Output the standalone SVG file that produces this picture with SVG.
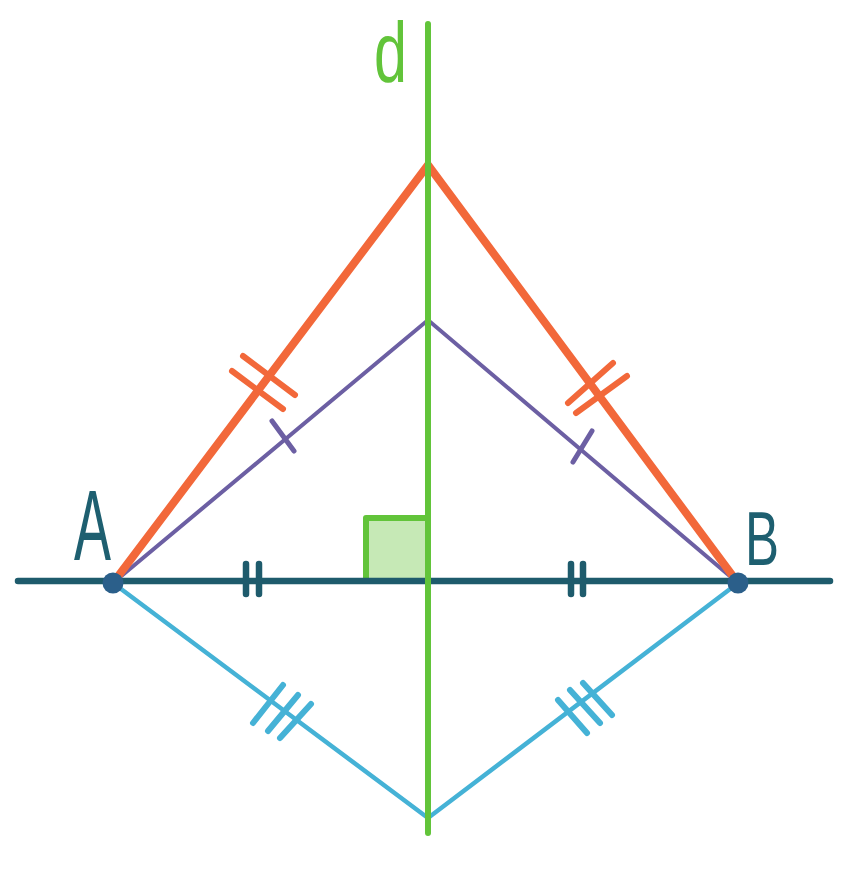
<svg xmlns="http://www.w3.org/2000/svg" width="842" height="882" viewBox="0 0 842 882">
<style>
.or{stroke:#f2683a;stroke-width:8;stroke-linecap:round;fill:none}
.ort{stroke:#f2683a;stroke-width:6;stroke-linecap:round;fill:none}
.pu{stroke:#6c5fa3;stroke-width:4;stroke-linecap:round;fill:none}
.put{stroke:#6c5fa3;stroke-width:5;stroke-linecap:round;fill:none}
.te{stroke:#1e5b6c;stroke-width:6.5;stroke-linecap:round;fill:none}
.cy{stroke:#45b2d6;stroke-width:4.5;stroke-linecap:round;fill:none}
.cyt{stroke:#45b2d6;stroke-width:6;stroke-linecap:round;fill:none}
.gr{stroke:#62c43a;stroke-width:6;stroke-linecap:round;fill:none}
.lbl{font-family:"Liberation Sans",sans-serif;fill:#1e5f70}
</style>
<g id="connectors">
  <g id="right-angle">
    <rect x="366" y="518" width="62" height="63" fill="#c6e9b6"/>
    <path d="M366,581 V518 H428" fill="none" stroke="#62c43a" stroke-width="6" stroke-linejoin="round"/>
  </g>
  <line id="line-AB" class="te" x1="18" y1="581" x2="830" y2="581"/>
  <g id="ticks-AB">
    <line class="te" x1="246" y1="564" x2="246" y2="594"/>
    <line class="te" x1="259" y1="564" x2="259" y2="594"/>
    <line class="te" x1="571" y1="564" x2="571" y2="594"/>
    <line class="te" x1="583" y1="564" x2="583" y2="594"/>
  </g>
  <g id="cyan">
    <polyline class="cy" points="113,583 428,818 738,583"/>
    <line class="cyt" x1="283" y1="685" x2="253" y2="723"/>
    <line class="cyt" x1="298" y1="695" x2="268" y2="731"/>
    <line class="cyt" x1="311" y1="704" x2="280" y2="738"/>
    <line class="cyt" x1="558" y1="700" x2="587" y2="733"/>
    <line class="cyt" x1="570" y1="690" x2="600" y2="723"/>
    <line class="cyt" x1="583" y1="683" x2="612" y2="715"/>
  </g>
  <g id="purple">
    <polyline class="pu" points="113,583 428,320 738,583"/>
    <line class="put" x1="272" y1="421" x2="294" y2="451"/>
    <line class="put" x1="592" y1="431" x2="573" y2="462"/>
  </g>
  <g id="orange">
    <polyline class="or" points="113,583 428,165 738,583" stroke-linejoin="round"/>
    <line class="ort" x1="243" y1="356" x2="295" y2="395"/>
    <line class="ort" x1="232" y1="371" x2="283" y2="409"/>
    <line class="ort" x1="613" y1="363" x2="568" y2="403"/>
    <line class="ort" x1="627" y1="376" x2="576" y2="413"/>
  </g>
  <line id="line-d" class="gr" x1="428" y1="24" x2="428" y2="833"/>
</g>
<g id="point-A">
  <circle cx="113" cy="583" r="10.5" fill="#2b5f8a"/>
  <text class="lbl" x="74" y="560" font-size="100" textLength="37" lengthAdjust="spacingAndGlyphs">A</text>
</g>
<g id="point-B">
  <circle cx="738" cy="583" r="10.5" fill="#2b5f8a"/>
  <text class="lbl" x="745" y="565" font-size="76" textLength="34" lengthAdjust="spacingAndGlyphs">B</text>
</g>
<g id="label-d">
  <text x="374" y="82" font-family="'Liberation Sans',sans-serif" font-size="86" fill="#62c43a" textLength="33" lengthAdjust="spacingAndGlyphs">d</text>
</g>
</svg>
